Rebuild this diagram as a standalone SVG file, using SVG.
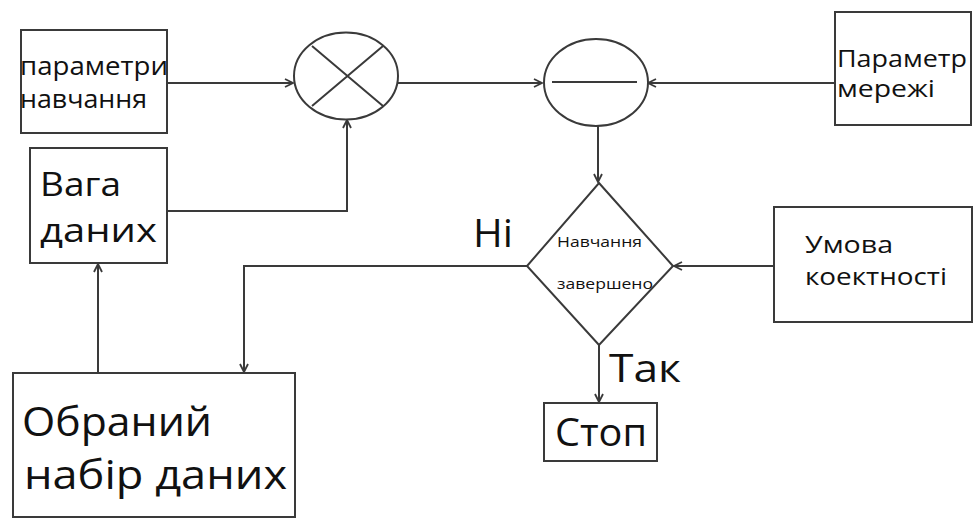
<svg xmlns="http://www.w3.org/2000/svg" width="974" height="518" viewBox="0 0 974 518">
  <style>
    .box { fill: #ffffff; stroke: #3a3a3a; stroke-width: 2; }
    .op { fill: #ffffff; stroke: #3a3a3a; stroke-width: 2; }
    .mark { stroke: #3a3a3a; stroke-width: 2; fill: none; }
    .wire { fill: none; stroke: #3a3a3a; stroke-width: 2; marker-end: url(#arr); }
    text { font-family: "Open Sans", "Noto Sans", "DejaVu Sans", sans-serif; font-weight: 500; fill: #111111; }
    .t26 { font-size: 26px; }
    .t24 { font-size: 24px; }
    .t33 { font-size: 33px; }
    .t23 { font-size: 23px; }
    .t15 { font-size: 15px; }
    .t38 { font-size: 38px; }
    .t40 { font-size: 40px; }
  </style>
  <defs>
    <marker id="arr" markerWidth="10" markerHeight="10" refX="9" refY="5" orient="auto" markerUnits="userSpaceOnUse">
      <path d="M1,1 L9,5 L1,9" fill="none" stroke="#3a3a3a" stroke-width="1.8"/>
    </marker>
  </defs>
  <rect width="974" height="518" fill="#ffffff"/>

  <g id="connectors">
    <path class="wire" d="M167,83 H293"/>
    <path class="wire" d="M167,211 H347 V120"/>
    <path class="wire" d="M398,83 H542"/>
    <path class="wire" d="M835,83 H648"/>
    <path class="wire" d="M598,126 V182"/>
    <path class="wire" d="M774,266 H674"/>
    <path class="wire" d="M527,266 H244 V372"/>
    <path class="wire" d="M98,373 V264"/>
    <path class="wire" d="M599,345 V402"/>
  </g>

  <g id="learning-params">
    <rect class="box" x="21" y="30" width="146" height="103"/>
    <text class="t26" x="20" y="75" textLength="148" lengthAdjust="spacingAndGlyphs">параметри</text>
    <text class="t26" x="20" y="108" textLength="127" lengthAdjust="spacingAndGlyphs">навчання</text>
  </g>

  <g id="data-weight">
    <rect class="box" x="30" y="148" width="137" height="115"/>
    <text class="t33" x="40" y="196" textLength="81" lengthAdjust="spacingAndGlyphs">Вага</text>
    <text class="t33" x="40" y="242" textLength="117" lengthAdjust="spacingAndGlyphs">даних</text>
  </g>

  <g id="multiplier">
    <ellipse class="op" cx="346" cy="76" rx="52" ry="43.5"/>
    <path class="mark" d="M312,46 L383,106 M383,46 L312,106"/>
  </g>

  <g id="subtractor">
    <ellipse class="op" cx="596" cy="82.5" rx="52" ry="43.5"/>
    <path class="mark" d="M552,82 H637"/>
  </g>

  <g id="network-params">
    <rect class="box" x="835" y="12" width="136" height="113"/>
    <text class="t24" x="837" y="67" textLength="130" lengthAdjust="spacingAndGlyphs">Параметр</text>
    <text class="t24" x="837" y="97" textLength="98" lengthAdjust="spacingAndGlyphs">мережі</text>
  </g>

  <g id="decision">
    <path class="op" d="M599,183 L673,266 L599,345 L527,266 Z"/>
    <text class="t15" x="557" y="247" textLength="85" lengthAdjust="spacingAndGlyphs">Навчання</text>
    <text class="t15" x="557" y="289" textLength="96" lengthAdjust="spacingAndGlyphs">завершено</text>
  </g>

  <g id="condition">
    <rect class="box" x="774" y="207" width="198" height="115"/>
    <text class="t23" x="805" y="253" textLength="88" lengthAdjust="spacingAndGlyphs">Умова</text>
    <text class="t23" x="805" y="285" textLength="142" lengthAdjust="spacingAndGlyphs">коектності</text>
  </g>

  <g id="stop">
    <rect class="box" x="544" y="403" width="113" height="58"/>
    <text class="t38" x="555" y="446" textLength="92" lengthAdjust="spacingAndGlyphs">Стоп</text>
  </g>

  <g id="dataset">
    <rect class="box" x="13" y="373" width="282" height="144"/>
    <text class="t40" x="22" y="436" textLength="190" lengthAdjust="spacingAndGlyphs">Обраний</text>
    <text class="t40" x="24" y="489" textLength="263" lengthAdjust="spacingAndGlyphs">набір даних</text>
  </g>

  <g id="labels">
    <text class="t38" x="473" y="247" textLength="40" lengthAdjust="spacingAndGlyphs">Ні</text>
    <text class="t38" x="609" y="382" textLength="72" lengthAdjust="spacingAndGlyphs">Так</text>
  </g>
</svg>
